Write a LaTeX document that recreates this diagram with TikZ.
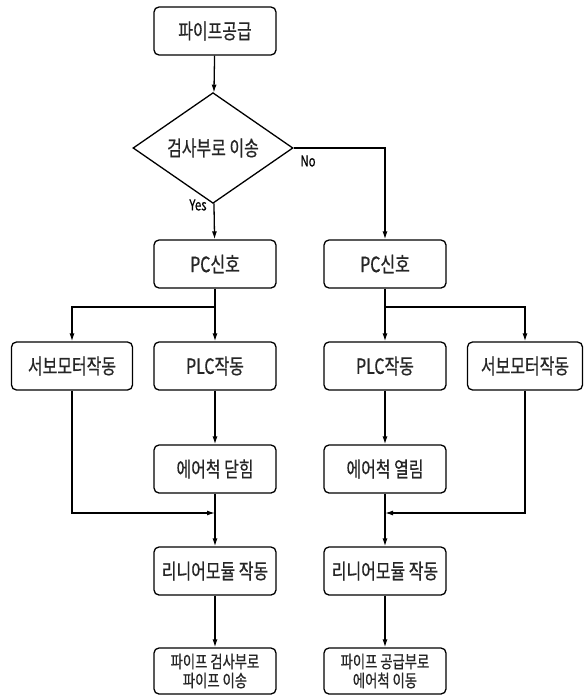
\documentclass[tikz,border=0pt]{standalone}
\usepackage{fontspec}
\newfontfamily\kr[FakeStretch=0.76,FakeBold=0.6]{Noto Sans CJK KR}
\usetikzlibrary{shapes.geometric,arrows.meta}
\begin{document}
\begin{tikzpicture}[x=1pt,y=-1pt,
  box/.style={draw, rounded corners=5pt, line width=1.3pt, minimum width=122pt, minimum height=48pt, inner sep=0pt, text=black!85, font=\kr\fontsize{21}{22}\selectfont},
  smallbox/.style={box, align=center, font=\kr\fontsize{17.5}{19}\selectfont},
  dec/.style={draw, shape=diamond, line width=1.3pt, minimum width=160pt, minimum height=77pt, inner sep=0pt, text=black!85, font=\kr\fontsize{21}{22}\selectfont},
  line/.style={line width=1.3pt},
  arr/.style={line, -{Latex[length=8pt,width=5pt]}},
  lab/.style={font=\kr\fontsize{15}{16}\selectfont, inner sep=0pt}]
\useasboundingbox (0,0) rectangle (586,696);
\node[box] (top) at (215,31) {파이프공급};
\node[dec] (dec) at (213,148) {검사부로 이송};
\node[box] (pcL) at (215,264) {PC신호};
\node[box] (pcR) at (385,264) {PC신호};
\node[box, minimum width=121pt] (servoL) at (72,366) {서보모터작동};
\node[box] (plcL) at (215,366) {PLC작동};
\node[box] (plcR) at (385,366) {PLC작동};
\node[box, minimum width=115pt] (servoR) at (525,366) {서보모터작동};
\node[box] (airL) at (215,469) {에어척 닫힘};
\node[box] (airR) at (385,469) {에어척 열림};
\node[box] (linL) at (215,571) {리니어모듈 작동};
\node[box] (linR) at (385,571) {리니어모듈 작동};
\node[smallbox, minimum height=46pt] (endL) at (215,671) {파이프 검사부로\\파이프 이송};
\node[smallbox, minimum height=46pt] (endR) at (385,671) {파이프 공급부로\\에어척 이동};
\coordinate (bL) at (215,307);
\coordinate (bR) at (385,307);
\coordinate (mL) at (215,513);
\coordinate (mR) at (385,513);
\draw[arr] (top) -- (dec);
\draw[arr] (dec) -- (pcL);
\node[lab] (yes) at (198,205) {Yes};
\draw[arr] (dec.east) -| (pcR.north);
\node[lab] (no) at (308,161) {No};
\draw[line] (pcL) -- (bL);
\draw[arr] (bL) -- (plcL);
\draw[arr] (bL) -| (servoL.north);
\draw[line] (pcR) -- (bR);
\draw[arr] (bR) -- (plcR);
\draw[arr] (bR) -| (servoR.north);
\draw[arr] (plcL) -- (airL);
\draw[arr] (plcR) -- (airR);
\draw[line] (airL) -- (mL);
\draw[arr] (mL) -- (linL);
\draw[arr] (servoL.south) |- (mL);
\draw[line] (airR) -- (mR);
\draw[arr] (mR) -- (linR);
\draw[arr] (servoR.south) |- (mR);
\draw[arr] (linL) -- (endL);
\draw[arr] (linR) -- (endR);
\end{tikzpicture}
\end{document}
